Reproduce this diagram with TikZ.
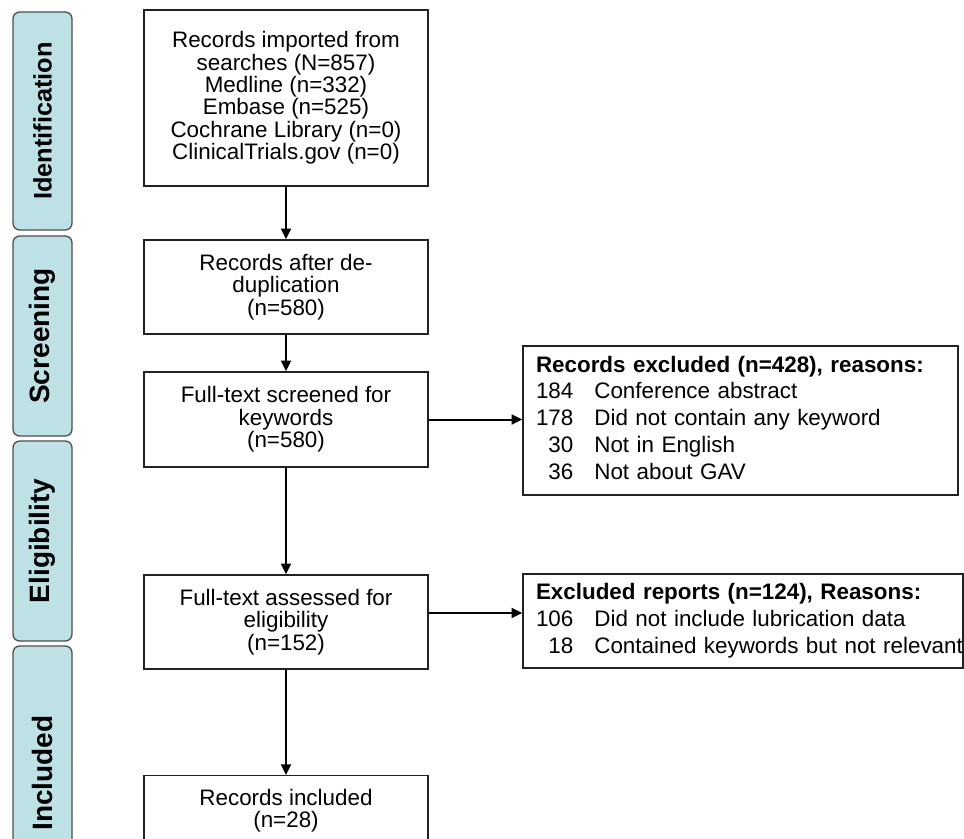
\documentclass[tikz,border=0pt]{standalone}
\usepackage{fontspec}
\setmainfont{Liberation Sans}
\usetikzlibrary{arrows.meta}
\definecolor{stagefill}{HTML}{BEE1E5}
\definecolor{boxline}{HTML}{222222}
\begin{document}
\begin{tikzpicture}[x=0.75pt,y=-0.75pt,
    mainbox/.style={draw=boxline, line width=1.1pt, minimum width=213pt, align=center,
        font=\fontsize{16.8}{16.8}\selectfont},
    exclbox/.style={draw=boxline, line width=1.1pt, inner xsep=9.75pt, align=left,
        font=\fontsize{16.8}{20.2}\selectfont},
    stagebox/.style={draw=boxline!80, line width=1pt, fill=stagefill, rounded corners=5pt,
        rotate=90, minimum height=44.25pt, font=\bfseries\fontsize{21}{21}\selectfont},
    flow/.style={-{Triangle[length=8pt,width=7.5pt]}, line width=1.5pt}]
    \useasboundingbox (0,0) rectangle (964,839);
    \clip (0,0) rectangle (964,839);

    % stage labels on the left
    \node[stagebox, minimum width=163.5pt, font=\bfseries\fontsize{19}{19}\selectfont] (ident) at (42.5,121) {Identification};
    \node[stagebox, minimum width=150pt] (screen) at (42.5,336) {Screening};
    \node[stagebox, minimum width=150pt] (elig) at (42.5,541) {Eligibility};
    \node[stagebox, minimum width=190.5pt] (incl) at (42.5,773) {Included};

    % main column
    \node[mainbox, minimum height=132pt] (search) at (286,98)
        {Records imported from\\searches (N=857)\\Medline (n=332)\\Embase (n=525)\\Cochrane Library (n=0)\\ClinicalTrials.gov (n=0)};
    \node[mainbox, minimum height=70.5pt] (dedup) at (286,287)
        {Records after de-\\duplication\\(n=580)};
    \node[mainbox, minimum height=71.25pt] (full) at (286,419.5)
        {Full-text screened for\\keywords\\(n=580)};
    \node[mainbox, minimum height=70.5pt] (assess) at (286,622)
        {Full-text assessed for\\eligibility\\(n=152)};
    \node[mainbox, anchor=north, minimum height=52pt] (final) at (286,775)
        {Records included\\(n=28)};

    % exclusion boxes
    \node[exclbox, text width=306.75pt, minimum height=111.75pt] (excl) at (740.5,420.5)
        {\begin{tabular}{@{}r@{\hspace{15.75pt}}l@{}}
         \multicolumn{2}{@{}l@{}}{\bfseries Records excluded (n=428), reasons:}\\
         184 & Conference abstract\\
         178 & Did not contain any keyword\\
         30 & Not in English\\
         36 & Not about GAV
         \end{tabular}};
    \node[exclbox, text width=310.5pt, minimum height=70.5pt] (report) at (743,621)
        {\begin{tabular}{@{}r@{\hspace{15.75pt}}l@{}}
         \multicolumn{2}{@{}l@{}}{\bfseries Excluded reports (n=124), Reasons:}\\
         106 & Did not include lubrication data\\
         18 & Contained keywords but not relevant
         \end{tabular}};

    % arrows
    \draw[flow] (search) -- (dedup);
    \draw[flow] (dedup) -- (full);
    \draw[flow] (full) -- (assess);
    \draw[flow] (assess) -- (final);
    \draw[flow] (full.east) -- (full.east -| excl.west);
    \draw[flow] ([yshift=6.75pt]assess.east) -- ([yshift=6.75pt]assess.east -| report.west);
\end{tikzpicture}
\end{document}
